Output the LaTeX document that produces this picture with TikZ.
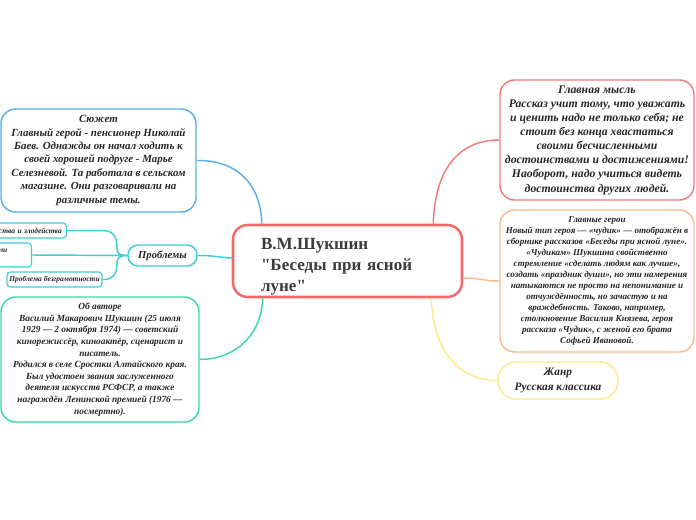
\documentclass[tikz,border=0pt]{standalone}
\usepackage{fontspec}
\setmainfont{Liberation Serif}[Ligatures=TeXOff]
\usetikzlibrary{calc}
\definecolor{ink}{HTML}{262626}
\definecolor{cred}{HTML}{F26A6A}
\definecolor{cidea}{HTML}{F27C7C}
\definecolor{cblue}{HTML}{5AAEEF}
\definecolor{ccyan}{HTML}{3CCFD8}
\definecolor{cgreen}{HTML}{3DD8A5}
\definecolor{corange}{HTML}{FBBA8D}
\definecolor{cyellow}{HTML}{F9EC8A}
\tikzset{
  topic/.style={draw, fill=white, line width=1.1pt, rounded corners=11pt, align=center, inner sep=0pt, text=ink,
    font=\bfseries\itshape},
  smallbox/.style={draw=ccyan, fill=white, line width=0.9pt, rounded corners=2.5pt, inner sep=0pt, text=ink,
    font=\fontsize{5.6}{6.8}\selectfont\bfseries\itshape, minimum height=11.25pt},
  link/.style={line width=1.1pt}
}
\begin{document}
\begin{tikzpicture}[x=0.75pt,y=-0.75pt]
\useasboundingbox[fill=white] (0,0) rectangle (696,520);

% central node
\node[draw=cred, fill=white, line width=1.9pt, rounded corners=11pt, minimum width=171.75pt, minimum height=54pt,
  text width=129.75pt, align=left, inner sep=0pt, text=ink!90,
  font=\fontsize{12.8}{16}\selectfont\bfseries] (c) at (347.5,261)
  {\rule{0pt}{17pt}В.М.Шукшин\\"Беседы при ясной\\луне"};

% left: plot
\node[topic, draw=cblue, minimum width=146.25pt, minimum height=77.25pt,
  font=\fontsize{8.2}{10.1}\selectfont\bfseries\itshape] (s) at (98.5,160.5)
  {Сюжет\\Главный герой - пенсионер Николай\\Баев. Однажды он начал ходить к\\своей хорошей подругe - Марье\\Селезневой. Та работала в сельском\\магазине. Они разговаривали на\\различные темы.};

% left: problems
\node[topic, draw=ccyan, rounded corners=7.5pt, minimum width=51.75pt, minimum height=15.75pt,
  font=\fontsize{8}{9.6}\selectfont\bfseries\itshape] (p) at (162.5,255.5) {Проблемы};
\node[smallbox, anchor=east, text width=60pt, align=right, inner xsep=3.5pt] (p1) at (67,230.5) {ства и злодейства};
\node[smallbox, anchor=east, text width=50pt, align=right, inner xsep=18pt, minimum height=18pt] (p2) at (32,255) {ли\\\mbox{}};
\node[smallbox, minimum width=71.25pt] (p3) at (54.5,279.5) {Проблема безграмотности};

% left: author
\node[topic, draw=cgreen, minimum width=148.5pt, minimum height=93.75pt,
  font=\fontsize{7}{8.7}\selectfont\bfseries\itshape] (a) at (100,359.5)
  {Об авторе\\Василий Макарович Шукшин (25 июля\\1929 — 2 октября 1974) — советский\\кинорежиссёр, киноактёр, сценарист и\\писатель.\\Родился в селе Сростки Алтайского края.\\Был удостоен звания заслуженного\\деятеля искусств РСФСР, а также\\награждён Ленинской премией (1976 —\\посмертно).};

% right: main idea
\node[topic, draw=cidea, minimum width=145.5pt, minimum height=90pt,
  font=\fontsize{8.8}{10.6}\selectfont\bfseries\itshape] (m) at (597,140)
  {Главная мысль\\Рассказ учит тому, что уважать\\и ценить надо не только себя; не\\стоит без конца хвастаться\\своими бесчисленными\\достоинствами и достижениями!\\Наоборот, надо учиться видеть\\достоинства других людей.};

% right: heroes
\node[topic, draw=corange, minimum width=145.5pt, minimum height=106.5pt,
  font=\fontsize{6.8}{8.3}\selectfont\bfseries\itshape] (h) at (597,281)
  {Главные герои\\Новый тип героя — «чудик» — отображён в\\сборнике рассказов «Беседы при ясной луне».\\«Чудикам» Шукшина свойственно\\стремление «сделать людям как лучше»,\\создать «праздник души», но эти намерения\\натыкаются не просто на непонимание и\\отчуждённость, но зачастую и на\\враждебность. Таково, например,\\столкновение Василия Князева, героя\\рассказа «Чудик», с женой его брата\\Софьей Ивановой.};

% right: genre
\node[topic, draw=cyellow, rounded corners=13.5pt, minimum width=90pt, minimum height=27.75pt,
  font=\fontsize{8.5}{11}\selectfont\bfseries\itshape] (g) at (558,380.5)
  {Жанр\\Русская классика};

% connectors
\draw[link, cblue] (s.east) .. controls (238,160) and (261,185) .. ($(c.north west)+(30,0)$);
\draw[link, ccyan] (p.east) .. controls (215,255.5) and (215,257) .. ($(c.west)+(0,-3)$);
\draw[link, ccyan] (p1.east) -- (102,230.5) .. controls (116,230.5) and (117,240) .. (117,248) .. controls (117,254) and (120,255.5) .. (p.west);
\draw[link, ccyan] (p2.east) -- (p.west);
\draw[link, ccyan] (p3.east) -- (104,279.5) .. controls (114,279.5) and (117,272) .. (117,264) .. controls (117,257) and (120,255.5) .. (p.west);
\draw[link, cgreen] (a.east) .. controls (240,359) and (262,330) .. ($(c.south west)+(31,0)$);
\draw[link, cidea] ($(c.north east)+(-30,0)$) .. controls (435,165) and (462,140) .. (m.west);
\draw[link, corange] ($(c.east)+(0,17)$) .. controls (482,278) and (482,281) .. (h.west);
\draw[link, cyellow] ($(c.south east)+(-32,0)$) .. controls (433,350) and (458,380.5) .. (g.west);
\end{tikzpicture}
\end{document}
